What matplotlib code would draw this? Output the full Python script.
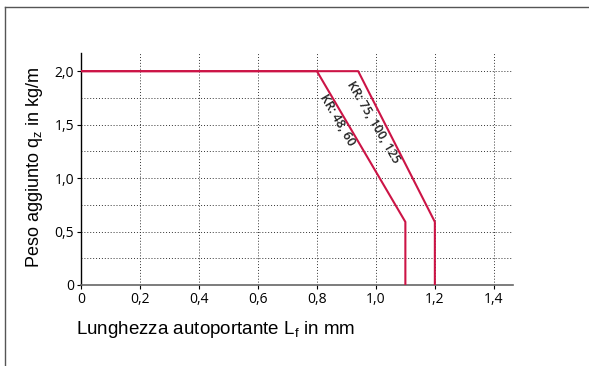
import matplotlib.pyplot as plt
from matplotlib.lines import Line2D

# curve data (length in mm, added weight in kg/m)
x_kr48 = [0.0, 0.8, 1.1, 1.1]
y_kr48 = [2.0, 2.0, 0.59, 0.0]
x_kr75 = [0.0, 0.94, 1.2, 1.2]
y_kr75 = [2.0, 2.0, 0.59, 0.0]

x_ticks = [0, 0.2, 0.4, 0.6, 0.8, 1.0, 1.2, 1.4]
x_ticklabels = ["0", "0,2", "0,4", "0,6", "0,8", "1,0", "1,2", "1,4"]
y_ticks = [0, 0.5, 1.0, 1.5, 2.0]
y_ticklabels = ["0", "0,5", "1,0", "1,5", "2,0"]
y_minor = [0.25, 0.75, 1.25, 1.75]

RED = "#cc1446"

fig = plt.figure(figsize=(5.89, 3.66), dpi=100)
ax = fig.add_axes([81 / 589, 81 / 366, 432 / 589, 232 / 366])

# frame around the figure (left and top only visible)
fig.add_artist(Line2D([5 / 589, 5 / 589], [0, 1 - 7 / 366], color="#555555", lw=1.0))
fig.add_artist(Line2D([5 / 589, 1], [1 - 7 / 366, 1 - 7 / 366], color="#555555", lw=1.0))

ax.set_xlim(0, 1.465)
ax.set_ylim(0, 2.17)

for v in x_ticks[1:]:
    ax.axvline(v, color="#333333", ls=(0, (1, 2)), lw=0.7, zorder=1)
for v in y_ticks[1:] + y_minor:
    ax.axhline(v, color="#333333", ls=(0, (1, 2)), lw=0.7, zorder=1)

ax.plot(x_kr48, y_kr48, color=RED, lw=1.5, zorder=3)
ax.plot(x_kr75, y_kr75, color=RED, lw=1.5, zorder=3)

ax.text(0.87, 1.54, "KR: 48, 60", rotation=-59.6, ha="center", va="center",
        fontsize=9, fontweight="semibold", family="Open Sans", color="#222222",
        rotation_mode="anchor")
ax.text(0.99, 1.52, "KR: 75, 100, 125", rotation=-59.6, ha="center", va="center",
        fontsize=9, fontweight="semibold", family="Open Sans", color="#222222",
        rotation_mode="anchor")

ax.set_xticks(x_ticks)
ax.set_xticklabels(x_ticklabels)
ax.set_yticks(y_ticks)
ax.set_yticklabels(y_ticklabels)
ax.tick_params(axis="both", length=3, width=0.8, labelsize=10, pad=2)
for lab in ax.get_xticklabels() + ax.get_yticklabels():
    lab.set_family("Open Sans")

for s in ["top", "right"]:
    ax.spines[s].set_visible(False)
ax.spines["left"].set_color("black")
ax.spines["bottom"].set_color("#666666")
ax.spines["left"].set_linewidth(1.0)
ax.spines["bottom"].set_linewidth(1.2)

fig.text(35 / 589, 1 - 168 / 366, "Peso aggiunto q$_\\mathregular{z}$ in kg/m", rotation=90,
         ha="center", va="center", fontsize=13, family="Liberation Sans")
fig.text(76 / 589, 1 - 330 / 366, "Lunghezza autoportante L$_\\mathregular{f}$ in mm",
         ha="left", va="center", fontsize=13.5, family="Liberation Sans")

fig.savefig("out.png", dpi=100)
